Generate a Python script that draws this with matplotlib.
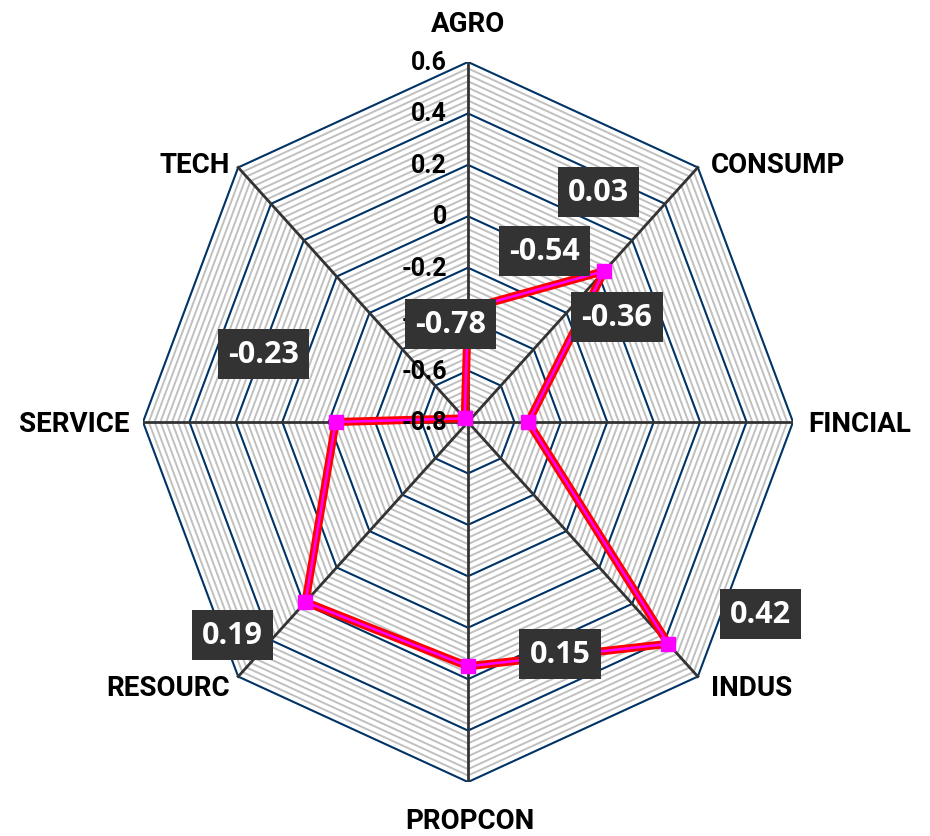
import numpy as np
import matplotlib
matplotlib.use("Agg")
import matplotlib.pyplot as plt

# sectors, clockwise from the top
categories = ["AGRO", "CONSUMP", "FINCIAL", "INDUS", "PROPCON", "RESOURC", "SERVICE", "TECH"]
values = [-0.36, 0.03, -0.54, 0.42, 0.15, 0.19, -0.23, -0.78]
value_labels = ["-0.36", "0.03", "-0.54", "0.42", "0.15", "0.19", "-0.23", "-0.78"]
tick_values = [-0.8, -0.6, -0.4, -0.2, 0, 0.2, 0.4, 0.6]
tick_labels = ["-0.8", "-0.6", "-0.4", "-0.2", "0", "0.2", "0.4", "0.6"]

VMIN, VMAX = -0.8, 0.6
MINOR = 0.025

# where each data label box sits relative to its point (pixels)
label_offsets = [(149, -8), (-6, 79), (16, 171), (92, 30), (92, 12), (-73, -33), (-72, 68), (-14, 94)]

n = len(categories)
theta = np.arange(n) * 2 * np.pi / n
rmax = VMAX - VMIN


def to_xy(r):
    r = np.asarray(r, dtype=float)
    return r * np.sin(theta), r * np.cos(theta)


def closed(a):
    return np.append(a, a[0])


fig = plt.figure(figsize=(9.3, 8.37), dpi=100)
ax = fig.add_axes([143 / 930, 54 / 837, 650 / 930, 720 / 837])
ax.set_xlim(-rmax, rmax)
ax.set_ylim(-rmax, rmax)
ax.axis("off")

# minor grid rings
for lev in np.arange(VMIN + MINOR, VMAX + 1e-9, MINOR):
    if abs(round((lev - VMIN) / 0.2) * 0.2 - (lev - VMIN)) < 1e-6:
        continue
    x, y = to_xy(np.full(n, lev - VMIN))
    ax.plot(closed(x), closed(y), color="#c0c0c0", lw=1.4, zorder=1)

# major grid rings
for lev in tick_values[1:]:
    x, y = to_xy(np.full(n, lev - VMIN))
    ax.plot(closed(x), closed(y), color="#003366", lw=1.5, zorder=2)

# spokes
for t in theta:
    ax.plot([0, rmax * np.sin(t)], [0, rmax * np.cos(t)], color="#333333", lw=2, zorder=3)

# series
px, py = to_xy(np.array(values) - VMIN)
ax.plot(closed(px), closed(py), color="#ff0000", lw=5.8, zorder=4, solid_joinstyle="miter")
ax.plot(closed(px), closed(py), color="#ff00ff", lw=1.8, zorder=5, solid_joinstyle="miter")
ax.plot(px, py, ls="none", marker="s", ms=9.5, color="#ff00ff", zorder=6)

# scale labels along the top spoke
for v, lab in zip(tick_values, tick_labels):
    ax.annotate(lab, xy=(0, v - VMIN), xytext=(-21, 0), textcoords="offset pixels",
                ha="right", va="center", fontsize=18, fontweight="bold",
                family=["Roboto", "DejaVu Sans"], color="black", zorder=7,
                annotation_clip=False)

# category labels
for t, cat in zip(theta, categories):
    s, c = np.sin(t), np.cos(t)
    if abs(s) < 1e-6:
        ha, off = "center", (2 * (c < 0), 38 if c > 0 else -39)
    elif abs(c) < 1e-6:
        ha, off = ("left" if s > 0 else "right"), (15 if s > 0 else -13, -2)
    else:
        ha = "left" if s > 0 else "right"
        off = (13 if s > 0 else -8, 3 if c > 0 else -11)
    ax.annotate(cat, xy=(rmax * s, rmax * c), xytext=off, textcoords="offset pixels",
                ha=ha, va="center", fontsize=20, fontweight="bold",
                family=["Roboto", "DejaVu Sans"], color="black",
                annotation_clip=False)

# data labels
for x, y, lab, off in zip(px, py, value_labels, label_offsets):
    ax.annotate(lab, xy=(x, y), xytext=off, textcoords="offset pixels",
                ha="center", va="center", fontsize=22, fontweight="bold",
                family=["Open Sans", "DejaVu Sans"], color="white", zorder=8,
                bbox=dict(boxstyle="square,pad=0.33", fc="#333333", ec="none"),
                annotation_clip=False)

fig.savefig("out.png", dpi=100)
